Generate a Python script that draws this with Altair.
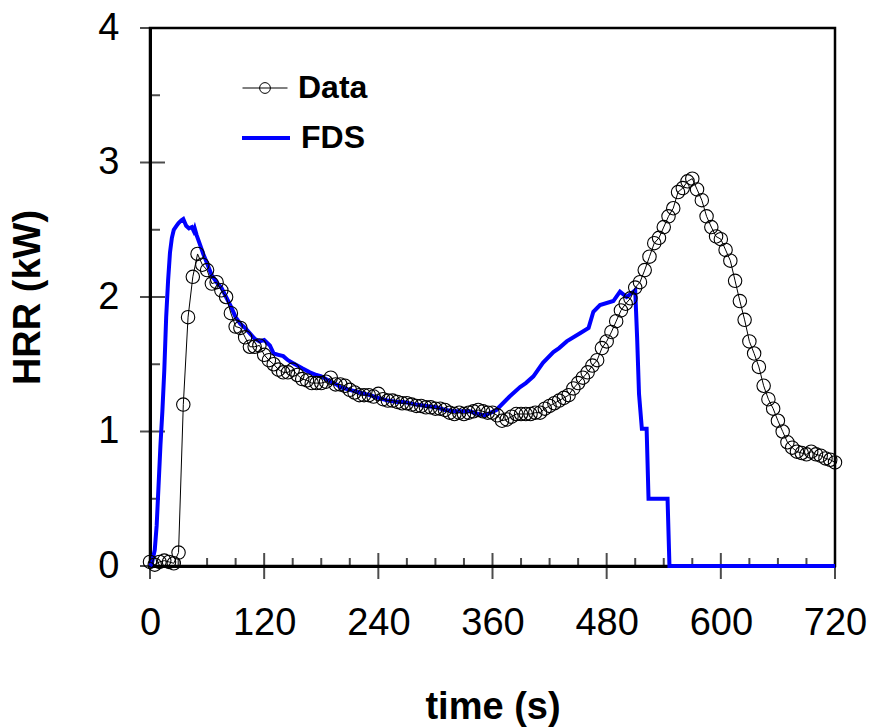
import altair as alt
import pandas as pd

# ---------------- data ----------------
data_time = [0, 5, 10, 15, 20, 25, 30, 35, 40, 45, 50, 55, 60, 65, 70, 75, 80, 85, 90, 95,
             100, 105, 110, 115, 120, 125, 130, 135, 140, 145, 150, 155, 160, 165, 170, 175,
             180, 185, 190, 195, 200, 205, 210, 215, 220, 225, 230, 235, 240, 245, 250, 255,
             260, 265, 270, 275, 280, 285, 290, 295, 300, 305, 310, 315, 320, 325, 330, 335,
             340, 345, 350, 355, 360, 365, 370, 375, 380, 385, 390, 395, 400, 405, 410, 415,
             420, 425, 430, 435, 440, 445, 450, 455, 460, 465, 470, 475, 480, 485, 490, 495,
             500, 505, 510, 515, 520, 525, 530, 535, 540, 545, 550, 555, 560, 565, 570, 575,
             580, 585, 590, 595, 600, 605, 610, 615, 620, 625, 630, 635, 640, 645, 650, 655,
             660, 665, 670, 675, 680, 685, 690, 695, 700, 705, 710, 715, 720]
data_hrr = [0.03, 0.01, 0.03, 0.04, 0.03, 0.02, 0.10, 1.20, 1.85, 2.15, 2.32, 2.24, 2.20, 2.10,
            2.11, 2.05, 2.00, 1.88, 1.78, 1.77, 1.70, 1.63, 1.63, 1.64, 1.57, 1.53, 1.50, 1.46,
            1.44, 1.44, 1.46, 1.42, 1.39, 1.38, 1.36, 1.36, 1.36, 1.37, 1.40, 1.35, 1.35, 1.34,
            1.31, 1.29, 1.27, 1.27, 1.27, 1.26, 1.28, 1.24, 1.23, 1.23, 1.22, 1.21, 1.21, 1.20,
            1.19, 1.19, 1.18, 1.18, 1.17, 1.17, 1.16, 1.14, 1.13, 1.14, 1.13, 1.14, 1.15, 1.16,
            1.15, 1.14, 1.14, 1.12, 1.08, 1.09, 1.11, 1.13, 1.13, 1.13, 1.13, 1.14, 1.14, 1.17,
            1.19, 1.21, 1.23, 1.25, 1.27, 1.32, 1.36, 1.40, 1.44, 1.49, 1.53, 1.62, 1.67, 1.74,
            1.82, 1.90, 1.95, 1.99, 2.07, 2.11, 2.20, 2.30, 2.40, 2.44, 2.52, 2.60, 2.66, 2.78,
            2.81, 2.86, 2.88, 2.80, 2.72, 2.60, 2.52, 2.45, 2.43, 2.35, 2.27, 2.12, 1.97, 1.83,
            1.67, 1.58, 1.48, 1.34, 1.24, 1.17, 1.08, 1.00, 0.92, 0.88, 0.85, 0.84, 0.83, 0.85,
            0.83, 0.82, 0.80, 0.79, 0.77]

fds_time = [0, 2, 5, 7, 9, 11, 13, 15, 17, 19, 21, 23, 25, 28, 30, 33, 35, 38, 41, 44, 46, 47,
            49, 52, 56, 60, 65, 70, 75, 80, 85, 90, 95, 100, 105, 110, 115, 120, 126, 130, 135,
            140, 145, 150, 160, 168, 175, 180, 190, 196, 200, 210, 220, 231, 240, 250, 260, 266,
            280, 290, 301, 310, 320, 336, 345, 352, 364, 371, 378, 389, 395, 403, 413, 424, 430,
            438, 452, 461, 466, 473, 487, 494, 501, 510, 512, 514, 517, 522, 524, 544, 546, 720]
fds_hrr = [0.00, 0.02, 0.12, 0.30, 0.60, 0.90, 1.15, 1.45, 1.85, 2.12, 2.33, 2.44, 2.50, 2.53,
           2.55, 2.57, 2.58, 2.53, 2.51, 2.52, 2.49, 2.51, 2.46, 2.40, 2.32, 2.25, 2.16, 2.11,
           2.07, 2.00, 1.93, 1.85, 1.80, 1.77, 1.73, 1.69, 1.67, 1.68, 1.64, 1.58, 1.57, 1.56,
           1.53, 1.51, 1.47, 1.44, 1.42, 1.41, 1.37, 1.35, 1.33, 1.31, 1.29, 1.27, 1.25, 1.23,
           1.22, 1.22, 1.20, 1.19, 1.18, 1.16, 1.15, 1.15, 1.13, 1.12, 1.16, 1.21, 1.26, 1.33,
           1.36, 1.41, 1.51, 1.59, 1.62, 1.67, 1.73, 1.77, 1.89, 1.94, 1.97, 2.04, 2.00, 2.05,
           1.70, 1.28, 1.02, 1.02, 0.50, 0.50, 0.00, 0.00]

x_major = [0, 120, 240, 360, 480, 600, 720]
x_minor = [30, 60, 90, 150, 180, 210, 270, 300, 330, 390, 420, 450, 510, 540, 570, 630, 660, 690]
y_major = [0, 1, 2, 3, 4]
y_minor = [0.5, 1.5, 2.5, 3.5]

# ---------------- tables ----------------
df_data = pd.DataFrame({"time": data_time, "hrr": data_hrr})
df_data["series"] = "Data"
df_fds = pd.DataFrame({"time": fds_time, "hrr": fds_hrr})
df_fds["series"] = "FDS"
df_xmaj = pd.DataFrame({"time": x_major, "hrr": [0] * len(x_major)})
df_xmin = pd.DataFrame({"time": x_minor, "hrr": [0] * len(x_minor)})
df_ymaj = pd.DataFrame({"time": [0] * len(y_major), "hrr": y_major})
df_ymin = pd.DataFrame({"time": [0] * len(y_minor), "hrr": y_minor})

FONT = "Liberation Sans"
xs = alt.Scale(domain=[0, 720], nice=False, zero=False)
ys = alt.Scale(domain=[0, 4], nice=False, zero=False)

x_axis = alt.Axis(values=x_major, title="time (s)", ticks=False, grid=False,
                  domainColor="black", domainWidth=3, labelFlush=False,
                  labelFont=FONT, labelFontSize=38, labelColor="black", labelPadding=38,
                  titleFont=FONT, titleFontSize=38, titleFontWeight="bold", titleColor="black",
                  titlePadding=46)
y_axis = alt.Axis(values=y_major, format="d", title="HRR (kW)", ticks=False, grid=False,
                  domainColor="black", domainWidth=3, labelFlush=False,
                  labelFont=FONT, labelFontSize=38, labelColor="black", labelPadding=31,
                  titleFont=FONT, titleFontSize=38, titleFontWeight="bold", titleColor="black",
                  titlePadding=50)

X = alt.X("time:Q", scale=xs, axis=x_axis)
Y = alt.Y("hrr:Q", scale=ys, axis=y_axis)

DATA_SYMBOL = ("M-1,0L1,0M-0.24,0A0.24,0.24,0,1,1,0.24,0"
               "A0.24,0.24,0,1,1,-0.24,0Z")

fds_line = alt.Chart(df_fds).mark_line(strokeWidth=4).encode(
    x=X, y=Y,
    stroke=alt.Stroke("series:N", scale=alt.Scale(domain=["FDS"], range=["#0000ff"]),
                      legend=alt.Legend(title=None, orient="none", legendX=90, legendY=84,
                                        symbolType="stroke", symbolSize=2304,
                                        symbolStrokeWidth=4, labelOffset=9, padding=0,
                                        labelFont=FONT, labelFontSize=32,
                                        labelFontWeight="bold", labelColor="black")),
)

data_line = alt.Chart(df_data).mark_line(color="black", strokeWidth=1).encode(x=X, y=Y)

data_pts = alt.Chart(df_data).mark_point(shape="circle", filled=False, size=180,
                                         strokeWidth=1.1, opacity=1).encode(
    x=X, y=Y,
    color=alt.Color("series:N", scale=alt.Scale(domain=["Data"], range=["black"]),
                    legend=alt.Legend(title=None, orient="none", legendX=92, legendY=37,
                                      symbolType=DATA_SYMBOL, symbolSize=2025,
                                      symbolStrokeWidth=1, symbolFillColor="transparent",
                                      symbolStrokeColor="black", labelOffset=10, padding=0,
                                      labelFont=FONT, labelFontSize=32,
                                      labelFontWeight="bold", labelColor="black")),
)

# axis ticks (major cross the axis, minor point inward)
xmaj_ticks = alt.Chart(df_xmaj).mark_tick(orient="vertical", size=26, thickness=2,
                                          color="black").encode(x=X, y=Y)
xmin_ticks = alt.Chart(df_xmin).mark_tick(orient="vertical", size=8, thickness=2,
                                          yOffset=-4, color="black").encode(x=X, y=Y)
ymaj_ticks = alt.Chart(df_ymaj).mark_tick(orient="horizontal", size=25, thickness=2,
                                          xOffset=2.5, color="black").encode(x=X, y=Y)
ymin_ticks = alt.Chart(df_ymin).mark_tick(orient="horizontal", size=10, thickness=2,
                                          xOffset=5, color="black").encode(x=X, y=Y)

chart = alt.layer(
    xmaj_ticks, xmin_ticks, ymaj_ticks, ymin_ticks, fds_line, data_line, data_pts
).resolve_legend(color="independent", stroke="independent").properties(
    width=685, height=538,
    autosize=alt.AutoSizeParams(type="none"),
    padding={"left": 150, "top": 28, "right": 34, "bottom": 162},
    background="white",
).configure_view(stroke="black", strokeWidth=2.5)

chart.save("out.html", embed_options={"renderer": "svg", "actions": False})
